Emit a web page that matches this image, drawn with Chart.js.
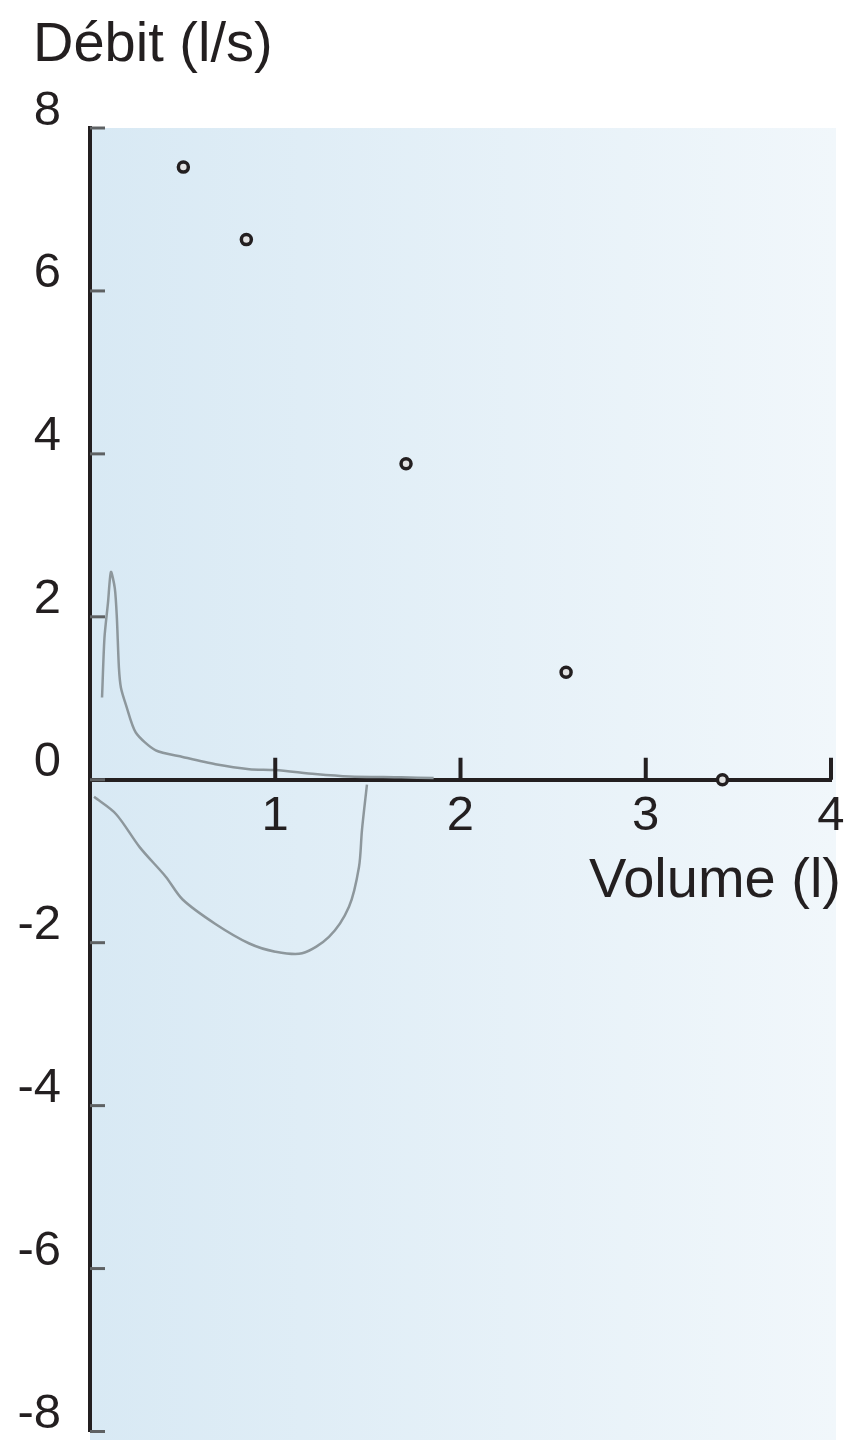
<!DOCTYPE html>
<html lang="fr">
<head>
<meta charset="utf-8">
<title>Débit / Volume</title>
<script src="https://cdn.jsdelivr.net/npm/chart.js@4.4.1/dist/chart.umd.min.js"></script>
<style>
    html, body { margin: 0; padding: 0; background: #ffffff; }
    #wrap { width: 846px; height: 1440px; }
</style>
</head>
<body>
<div id="wrap"><canvas id="flowChart" width="846" height="1440"></canvas></div>
<script>
// Axis ticks
const xTicks = [0, 1, 2, 3, 4];
const yTicks = [-8, -6, -4, -2, 0, 2, 4, 6, 8];

// Expiratory curve (volume l, flow l/s)
const expVolume = [0.065, 0.078, 0.097, 0.113, 0.134, 0.145, 0.156, 0.167, 0.194, 0.247, 0.355, 0.50, 0.677, 0.86, 1.00, 1.215, 1.40, 1.68, 1.855];
const expFlow   = [1.01, 1.74, 2.17, 2.55, 2.35, 1.99, 1.38, 1.13, 0.92, 0.58, 0.36, 0.28, 0.19, 0.13, 0.12, 0.07, 0.04, 0.03, 0.02];

// Inspiratory curve
const inspVolume = [0.022, 0.14, 0.269, 0.409, 0.50, 0.677, 0.86, 1.00, 1.145, 1.29, 1.398, 1.452, 1.468, 1.495];
const inspFlow   = [-0.21, -0.42, -0.83, -1.19, -1.47, -1.77, -2.01, -2.11, -2.13, -1.93, -1.56, -1.07, -0.62, -0.06];

// Measured points
const ptVolume = [0.504, 0.844, 1.706, 2.57, 3.414];
const ptFlow   = [7.52, 6.63, 3.88, 1.32, 0.0];

const yTitle = 'Débit (l/s)';
const xTitle = 'Volume (l)';

const toXY = (xs, ys) => xs.map((x, i) => ({ x: x, y: ys[i] }));

const inkColor = '#231f20';
const curveColor = '#8d979c';
const fontFamily = "'Liberation Sans', Arial, sans-serif";

// Light blue plot background
const backgroundPlugin = {
    id: 'plotBackground',
    beforeDraw(chart) {
        const { ctx, chartArea } = chart;
        const grad = ctx.createLinearGradient(chartArea.left, 0, chartArea.right + 5, 0);
        grad.addColorStop(0, '#d8e9f4');
        grad.addColorStop(1, '#f1f7fb');
        ctx.save();
        ctx.fillStyle = grad;
        ctx.fillRect(chartArea.left, chartArea.top, chartArea.right + 5 - chartArea.left, chart.height - chartArea.top);
        ctx.restore();
    }
};

// Inside tick marks and axis titles
const axisExtras = {
    id: 'axisExtras',
    afterDraw(chart) {
        const { ctx, chartArea, scales } = chart;
        const x = scales.x;
        const y = scales.y;
        const y0 = y.getPixelForValue(0);
        ctx.save();
        ctx.lineWidth = 3;
        ctx.strokeStyle = '#5e6163';
        yTicks.forEach(v => {
            const py = y.getPixelForValue(v);
            ctx.beginPath();
            ctx.moveTo(chartArea.left, py);
            ctx.lineTo(chartArea.left + 15, py);
            ctx.stroke();
        });
        ctx.lineWidth = 4;
        ctx.strokeStyle = inkColor;
        xTicks.filter(v => v > 0).forEach(v => {
            const px = x.getPixelForValue(v);
            ctx.beginPath();
            ctx.moveTo(px, y0);
            ctx.lineTo(px, y0 - 22);
            ctx.stroke();
        });

        ctx.fillStyle = inkColor;
        ctx.font = '56px ' + fontFamily;
        ctx.textBaseline = 'alphabetic';
        ctx.textAlign = 'left';
        ctx.fillText(yTitle, 33, 61);
        ctx.textAlign = 'right';
        ctx.fillText(xTitle, 841, 897);
        ctx.restore();
    }
};

const ctx = document.getElementById('flowChart').getContext('2d');
const flowChart = new Chart(ctx, {
    type: 'scatter',
    data: {
        datasets: [{
            label: 'Expiration',
            data: toXY(expVolume, expFlow),
            showLine: true,
            borderColor: curveColor,
            borderWidth: 2.5,
            pointRadius: 0,
            tension: 0.25,
            fill: false
        }, {
            label: 'Inspiration',
            data: toXY(inspVolume, inspFlow),
            showLine: true,
            borderColor: curveColor,
            borderWidth: 2.5,
            pointRadius: 0,
            tension: 0.3,
            fill: false
        }, {
            label: 'Points',
            data: toXY(ptVolume, ptFlow),
            showLine: false,
            pointRadius: 5,
            pointBorderWidth: 3.5,
            pointBorderColor: inkColor,
            pointBackgroundColor: '#e2e2e2'
        }]
    },
    options: {
        responsive: false,
        devicePixelRatio: 1,
        animation: false,
        layout: {
            padding: { top: 128, bottom: 3, left: 0, right: 15 }
        },
        plugins: {
            legend: { display: false },
            title: { display: false },
            tooltip: { enabled: false }
        },
        scales: {
            x: {
                type: 'linear',
                position: { y: 0 },
                min: xTicks[0],
                max: xTicks[xTicks.length - 1],
                afterBuildTicks: (scale) => { scale.ticks = xTicks.map(v => ({ value: v })); },
                afterFit: (scale) => { scale.paddingLeft = 0; scale.paddingRight = 0; },
                grid: { display: false, drawTicks: false },
                border: { display: true, color: inkColor, width: 4 },
                ticks: {
                    autoSkip: false,
                    maxRotation: 0,
                    padding: 7,
                    color: inkColor,
                    font: { family: fontFamily, size: 49 },
                    callback: (v) => (v === 0 ? '' : v)
                }
            },
            y: {
                type: 'linear',
                position: 'left',
                min: yTicks[0],
                max: yTicks[yTicks.length - 1],
                afterBuildTicks: (scale) => { scale.ticks = yTicks.map(v => ({ value: v })); },
                afterFit: (scale) => {
                    scale.width = 90;
                    scale.paddingTop = 0;
                    scale.paddingBottom = 0;
                },
                grid: { display: false, drawTicks: false },
                border: { display: true, color: inkColor, width: 4 },
                ticks: {
                    autoSkip: false,
                    padding: 29,
                    labelOffset: -17,
                    color: inkColor,
                    font: { family: fontFamily, size: 49 }
                }
            }
        }
    },
    plugins: [backgroundPlugin, axisExtras]
});
</script>
</body>
</html>
